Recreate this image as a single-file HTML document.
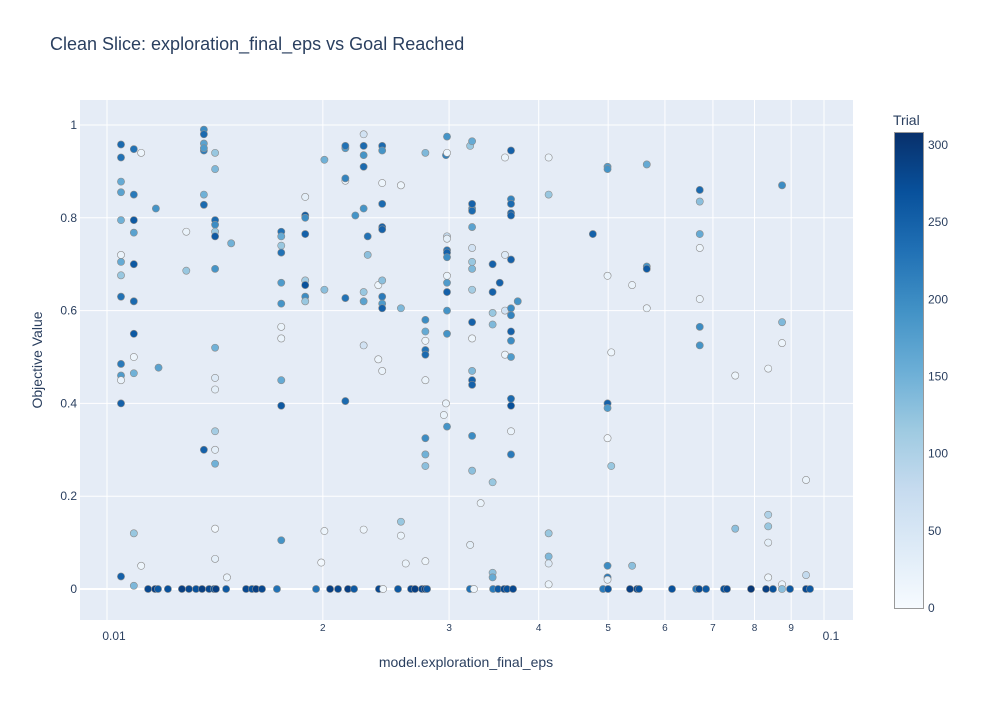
<!DOCTYPE html>
<html><head><meta charset="utf-8"><style>
body{margin:0;background:#fff;font-family:"Liberation Sans",sans-serif;}
svg text{font-family:"Liberation Sans",sans-serif;}
</style></head><body>
<svg id="chart" width="1000" height="700">
<defs><linearGradient id="cb" x1="0" y1="1" x2="0" y2="0">
<stop offset="0" stop-color="rgb(247,251,255)"/><stop offset="0.125" stop-color="rgb(222,235,247)"/>
<stop offset="0.25" stop-color="rgb(198,219,239)"/><stop offset="0.375" stop-color="rgb(158,202,225)"/>
<stop offset="0.5" stop-color="rgb(107,174,214)"/><stop offset="0.625" stop-color="rgb(66,146,198)"/>
<stop offset="0.75" stop-color="rgb(33,113,181)"/><stop offset="0.875" stop-color="rgb(8,81,156)"/>
<stop offset="1" stop-color="rgb(8,48,107)"/></linearGradient></defs>
<rect x="80" y="100" width="773" height="520" fill="#e5ecf6"/>
<g id="grid"></g><g id="pts"></g><g id="axes"></g>
<text x="50" y="50" font-size="18" fill="#2a3f5f">Clean Slice: exploration_final_eps vs Goal Reached</text>
<text x="466" y="667" font-size="14" fill="#2a3f5f" text-anchor="middle">model.exploration_final_eps</text>
<text transform="translate(42,360) rotate(-90)" font-size="14" fill="#2a3f5f" text-anchor="middle">Objective Value</text>
<text x="893" y="125" font-size="14" fill="#2a3f5f">Trial</text>
<rect x="894.5" y="132.5" width="29" height="476" fill="url(#cb)" stroke="#999" stroke-width="1"/>
<g id="cbticks"></g>
</svg>
<script>
const colX=[0.01046,0.0109,0.01116,0.0117,0.0118,0.0129,0.01365,0.01415,0.0147,0.0149,0.0175,0.0189,0.0199,0.0201,0.0215,0.0222,0.0228,0.0231,0.0239,0.0242,0.0257,0.0261,0.0278,0.0295,0.0297,0.0298,0.0321,0.0323,0.0332,0.0345,0.0353,0.0359,0.0366,0.0374,0.0413,0.0505,0.0476,0.0499,0.054,0.0566,0.0671,0.0752,0.0836,0.0874,0.0944];
const colY=[
[.958,.93,.878,.855,.795,.72,.705,.676,.63,.485,.46,.45,.40,.027],
[.948,.85,.795,.768,.70,.62,.55,.50,.465,.12,.007],
[.94,.05],[.82],[.477],[.77,.686],
[.99,.98,.96,.945,.95,.85,.828,.30],
[.94,.905,.795,.785,.77,.76,.69,.52,.455,.43,.34,.30,.27,.13,.065],
[.025],[.745],
[.77,.76,.74,.725,.66,.615,.565,.54,.45,.395,.105],
[.845,.805,.80,.765,.665,.655,.63,.62],
[.057],[.925,.645,.125],
[.405,.627,.88,.885,.95,.955],[.805],
[.98,.955,.935,.91,.82,.64,.62,.525,.128],[.72,.76],[.495,.655],
[.955,.945,.875,.83,.78,.775,.665,.63,.615,.605,.47],
[.87,.605,.145,.115],[.055],
[.94,.58,.555,.535,.515,.505,.45,.325,.29,.265,.06],
[.375],[.935,.40],
[.975,.94,.76,.755,.73,.725,.715,.675,.66,.64,.60,.55,.35],
[.955,.095],
[.965,.82,.815,.78,.735,.705,.69,.645,.575,.54,.47,.45,.44,.33,.255,.83],
[.185],[.70,.64,.595,.57,.23,.035,.025],[.66],[.93,.72,.60,.505],
[.945,.84,.83,.81,.805,.71,.605,.59,.555,.535,.50,.41,.395,.34,.29],
[.62],[.93,.85,.12,.07,.055,.01],[.51,.265],[.765],
[.91,.905,.675,.40,.39,.325,.05,.025,.02],[.655,.05],[.915,.695,.69,.605],
[.86,.835,.765,.735,.625,.565,.525],[.46,.13],[.475,.16,.135,.10,.025],[.87,.575,.53,.01],[.235,.03]];
const colT=[
[240,230,160,170,150,20,160,120,230,220,180,20,250,250],
[230,220,260,170,260,240,260,15,150,120,140],
[15,15],[190],[170],[20,120],
[200,240,170,220,180,150,240,250],
[120,140,240,200,120,260,190,150,40,30,110,30,150,10,30],
[20],[150],
[230,160,120,230,180,190,20,20,160,260,190],
[30,260,200,250,110,270,200,120],
[10],[150,130,15],
[240,230,20,210,180,230],[190],
[60,240,190,240,190,120,170,60,15],[130,230],[15,15],
[240,190,15,240,250,250,130,220,180,250,20],
[15,140,120,20],[20],
[140,200,160,15,230,240,20,200,150,130,15],
[20],[210,20],
[190,15,80,30,230,250,200,20,180,250,190,190,190],
[120,30],
[160,200,240,170,60,120,140,110,250,15,140,250,250,200,130,250],
[20],[250,250,120,140,120,130,160],[250],[20,40,60,20],
[250,210,240,250,250,250,200,210,250,200,180,240,270,20,220],
[190],[20,120,120,140,40,20],[15,120],[250],
[180,190,20,250,180,10,200,220,30],[20,130],[160,190,260,20],
[240,130,160,15,20,200,190],[15,130],[15,100,120,30,15],[200,140,15,20],[20,80]];
const zeroX=[0.01141,0.01167,0.01178,0.01216,0.01272,0.01301,0.01331,0.01357,0.01388,0.0141,0.01419,0.01466,0.01563,0.01593,0.01614,0.01645,0.01726,0.01957,0.02047,0.021,0.02168,0.02211,0.02395,0.02427,0.02546,0.02655,0.02689,0.0275,0.02777,0.02795,0.03208,0.03249,0.03455,0.03511,0.03579,0.03614,0.03684,0.04919,0.04998,0.05363,0.05485,0.05521,0.06138,0.06631,0.06695,0.06847,0.07253,0.07323,0.07911,0.08301,0.0849,0.08738,0.08966,0.09439,0.09561];
const zeroT=[280,290,260,270,290,280,270,290,280,270,290,260,280,270,290,280,230,230,290,280,290,260,280,15,260,280,290,280,290,260,230,15,220,260,280,270,280,220,260,290,280,270,270,220,280,260,270,280,300,290,270,130,260,280,260];
const cbTicks=[0,50,100,150,200,250,300];
const yTicks=[0,0.2,0.4,0.6,0.8,1];
const xMajor=[0.01,0.1];
const xMinor=[0.02,0.03,0.04,0.05,0.06,0.07,0.08,0.09];

const NS="http://www.w3.org/2000/svg";
const X0=107,DEC=717,Y0=589,YS=464,CMAX=308;
const xs=v=>X0+DEC*(Math.log10(v)+2);
const ys=v=>Y0-YS*v;
const stops=[[247,251,255],[222,235,247],[198,219,239],[158,202,225],[107,174,214],[66,146,198],[33,113,181],[8,81,156],[8,48,107]];
function col(t){let f=Math.max(0,Math.min(1,t/CMAX))*8,i=Math.min(7,Math.floor(f)),r=f-i;
 const c=stops[i].map((a,k)=>Math.round(a+(stops[i+1][k]-a)*r));return `rgb(${c})`;}
function el(tag,a,p){const e=document.createElementNS(NS,tag);for(const k in a)e.setAttribute(k,a[k]);p.appendChild(e);return e;}
const grid=document.getElementById('grid'),axes=document.getElementById('axes'),pts=document.getElementById('pts'),cbg=document.getElementById('cbticks');
yTicks.forEach(v=>{
 const l=el('line',{x1:80,x2:853,y1:ys(v),y2:ys(v),stroke:'#fff','stroke-width':v===0?2:1},grid);
 
 
 const t=el('text',{x:77,y:ys(v)+4,'font-size':12,fill:'#2a3f5f','text-anchor':'end'},axes);
 t.textContent=String(v);
 
 
});
xMajor.concat(xMinor).forEach(v=>{
 const l=el('line',{x1:xs(v),x2:xs(v),y1:100,y2:620,stroke:'#fff','stroke-width':1},grid);
 
 
});
xMajor.forEach(v=>{
 const t=el('text',{x:xs(v)+7,y:640,'font-size':12,fill:'#2a3f5f','text-anchor':'middle'},axes);
 t.textContent=String(v);
 
 
});
xMinor.forEach(v=>{
 const t=el('text',{x:xs(v),y:631,'font-size':10,fill:'#2a3f5f','text-anchor':'middle'},axes);
 t.textContent=String(Math.round(v*100));
 
 
});
function dot(x,y,t){
 const c=el('circle',{cx:xs(x),cy:ys(y),r:3.6,fill:col(t),stroke:'#8c8c8c','stroke-width':0.6},pts);
 
 
}
colX.forEach((x,i)=>colY[i].forEach((y,j)=>dot(x,y,colT[i][j])));
zeroX.forEach((x,i)=>dot(x,0,zeroT[i]));
cbTicks.forEach(v=>{
 const y=608-v*(463/300);
 const t=el('text',{x:928,y:y+4,'font-size':12,fill:'#2a3f5f'},cbg);
 t.textContent=String(v);
 
 
});
</script>
</body></html>
